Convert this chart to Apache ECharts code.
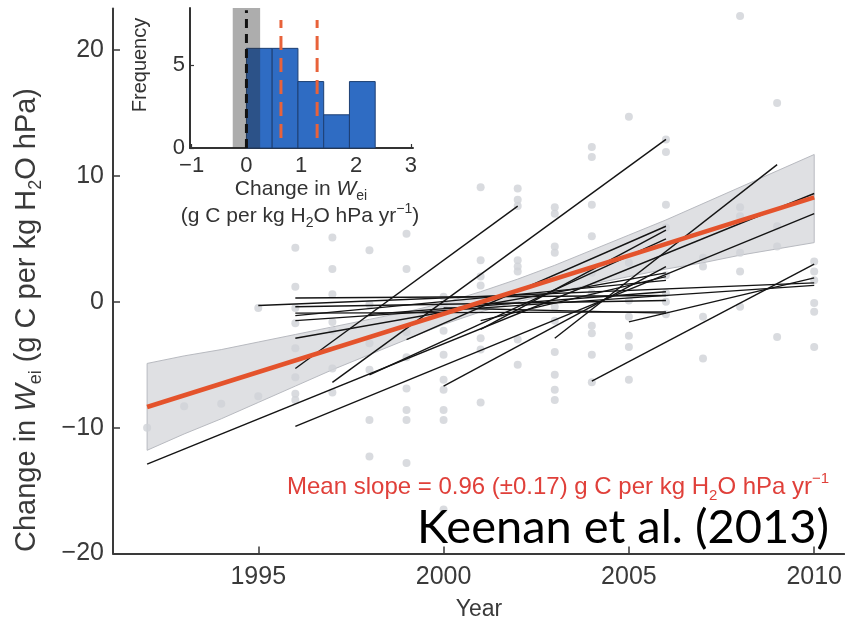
<!DOCTYPE html>
<html><head><meta charset="utf-8">
<script src="https://cdn.jsdelivr.net/npm/echarts@6/dist/echarts.min.js"></script>
<style>html,body{margin:0;padding:0;background:#fff}#c{width:845px;height:628px}</style>
</head><body><div id="c"></div>
<script>
// ---------- main panel data ----------
const xTicks = [1995, 2000, 2005, 2010];
const yTicks = [-20, -10, 0, 10, 20];
// grey site-year points (paired arrays)
const dotYears = [
 1992,1993,1994,1995,1995,
 1996,1996,1996,1996,1996,1996,1996,1996,
 1997,1997,1997,1997,1997,1997,1997,
 1998,1998,1998,1998,1998,1998,
 1999,1999,1999,1999,1999,1999,1999,1999,
 2000,2000,2000,2000,2000,2000,2000,2000,2000,
 2001,2001,2001,2001,2001,2001,2001,
 2002,2002,2002,2002,2002,2002,2002,2002,
 2003,2003,2003,2003,2003,2003,2003,2003,2003,2003,
 2004,2004,2004,2004,2004,2004,2004,2004,2004,2004,
 2005,2005,2005,2005,2005,2005,2005,
 2006,2006,2006,2006,2006,2006,2006,2006,
 2007,2007,2007,2007,
 2008,2008,2008,2008,2008,2008,
 2009,2009,2009,2009,
 2010,2010,2010,2010,2010,2010
];
const dotValues = [
 -10.0,-8.3,-8.1,-7.5,-0.5,
 4.3,1.2,-0.5,-1.7,-3.7,-6.0,-7.3,-7.8,
 5.1,2.6,0.6,-1.6,-2.3,-5.3,-7.2,
 4.1,-0.2,-3.3,-5.4,-9.4,-12.3,
 5.4,2.6,-2.4,-4.4,-6.9,-8.6,-9.4,-12.8,
 0.4,-0.3,-2.3,-4.2,-6.2,-7.0,-8.6,-9.4,-16.5,
 9.1,3.3,2.0,1.3,-2.9,-3.8,-8.0,
 9.0,8.1,7.6,3.3,2.8,2.4,-3.0,-5.0,
 7.5,7.0,4.4,3.9,-0.4,-1.5,-4.0,-5.8,-7.0,-7.8,
 12.3,11.5,7.7,5.2,2.3,0.7,-1.9,-2.5,-4.2,-6.4,
 14.7,3.1,0.1,-1.2,-2.7,-3.6,-6.2,
 12.9,11.9,7.7,5.9,2.1,0.7,0.0,-1.0,
 3.5,2.8,-1.2,-4.5,
 22.7,7.5,6.8,3.9,2.4,-0.4,
 15.8,6.0,4.4,-2.8,
 3.2,2.4,1.7,-0.1,-0.8,-3.6
];
// per-site regression lines: start (year,value) -> end (year,value)
const lineX0 = [1992,1995,1996,1996,1996,1996,1996,1996,1996,1997,1998,2000,2003,2004,2005,1999,1996,2001,2000,1998,2001];
const lineY0 = [-12.9,-0.3,0.3,-0.4,-0.9,-1.1,-2.9,-5.3,-9.9,-6.4,-5.8,-6.7,-2.9,-6.3,-1.6,-3.0,-1.5,-1.5,-0.5,-1.0,-2.2];
const lineX1 = [2010,2010,2006,2006,2006,2006,2006,2002,2010,2006,2006,2006,2009,2010,2010,2006,2010,2006,2006,2006,2006];
const lineY1 = [8.6,1.5,0.5,0.1,-0.8,1.7,2.3,7.6,7.0,12.9,5.0,2.8,10.9,3.0,1.9,6.0,1.3,2.0,-0.9,0.8,5.7];
// mean regression and its confidence band
const meanYears = [1992, 2010];
const meanValues = [-8.36, 8.29];
const bandYears = [1992,1993,1994,1995,1996,1997,1998,1999,2000,2001,2002,2003,2004,2005,2006,2007,2008,2009,2010];
const bandUpper = [-4.9,-4.3,-3.8,-3.2,-2.6,-2.0,-1.4,-0.8,-0.1,0.8,1.8,2.9,4.1,5.3,6.5,7.8,9.1,10.4,11.7];
const bandLower = [-11.8,-10.5,-9.3,-8.0,-6.7,-5.4,-4.2,-3.0,-1.8,-0.8,0.0,0.7,1.4,2.0,2.6,3.1,3.7,4.2,4.7];

// ---------- inset histogram data ----------
const histTicksX = [-1, 0, 1, 2, 3];
const histTicksY = [0, 5];
const histBinStart = [0.0, 0.47, 0.94, 1.41, 1.88];
const histBinEnd = [0.47, 0.94, 1.41, 1.88, 2.35];
const histCounts = [6, 6, 4, 2, 4];
const nullBand = [-0.25, 0.25];
const zeroLineY = [0, 8.3];
const meanSlopeDash = [0.63, 1.29];
const meanSlopeDashY = [0.6, 7.7];

const INSET_TOP = 8.43;
const font = "'Liberation Sans', Arial, Helvetica, sans-serif";
const axisColor = '#3a3a3a';
const labelColor = '#3a3a3a';
const minus = v => (v < 0 ? '\u2212' + Math.abs(v) : String(v));

const chart = echarts.init(document.getElementById('c'), null, {renderer: 'canvas'});

const option = {
  animation: false,
  backgroundColor: '#ffffff',
  grid: [
    {left: 113, top: 8.5, width: 732, height: 545},
    {left: 190, top: 8, width: 223, height: 140}
  ],
  xAxis: [
    {type: 'value', gridIndex: 0, min: 1991.08, max: 2010.81,
     axisLine: {onZero: false, lineStyle: {color: axisColor, width: 2}},
     axisTick: {inside: true, length: 7, customValues: xTicks, lineStyle: {color: axisColor, width: 1.5}},
     axisLabel: {customValues: xTicks, color: labelColor, fontSize: 25, fontFamily: font, margin: 11,
       formatter: v => String(v)},
     splitLine: {show: false}},
    {type: 'value', gridIndex: 1, min: -1.03, max: 3.04,
     axisLine: {onZero: false, lineStyle: {color: '#333', width: 2}},
     axisTick: {inside: true, length: 4, customValues: histTicksX, lineStyle: {color: '#333', width: 1.2}},
     axisLabel: {customValues: histTicksX, color: '#333', fontSize: 22, fontFamily: font, margin: 7,
       formatter: minus},
     splitLine: {show: false}}
  ],
  yAxis: [
    {type: 'value', gridIndex: 0, min: -20, max: 23.3,
     axisLine: {show: true, onZero: false, lineStyle: {color: axisColor, width: 2}},
     axisTick: {show: true, inside: true, length: 7, customValues: yTicks, lineStyle: {color: axisColor, width: 1.5}},
     axisLabel: {customValues: yTicks, color: labelColor, fontSize: 25, fontFamily: font, margin: 9,
       formatter: minus},
     splitLine: {show: false}},
    {type: 'value', gridIndex: 1, min: 0, max: INSET_TOP,
     axisLine: {show: true, onZero: false, lineStyle: {color: '#333', width: 2}},
     axisTick: {show: true, inside: true, length: 4, customValues: histTicksY, lineStyle: {color: '#333', width: 1.2}},
     axisLabel: {customValues: histTicksY, color: '#333', fontSize: 22, fontFamily: font, margin: 5},
     splitLine: {show: false}}
  ],
  series: [
    // confidence band
    {type: 'custom', xAxisIndex: 0, yAxisIndex: 0, z: 1, silent: true,
     data: [[bandYears[0], bandUpper[0]]],
     renderItem: (params, api) => {
       const pts = [];
       for (let i = 0; i < bandYears.length; i++) pts.push(api.coord([bandYears[i], bandUpper[i]]));
       for (let i = bandYears.length - 1; i >= 0; i--) pts.push(api.coord([bandYears[i], bandLower[i]]));
       return {type: 'polygon', shape: {points: pts},
               style: {fill: '#dfe0e3', stroke: '#b8bac0', lineWidth: 1}};
     }},
    // grey points
    {type: 'scatter', xAxisIndex: 0, yAxisIndex: 0, z: 2, symbolSize: 8,
     itemStyle: {color: '#cfd2d7'},
     data: dotYears.map((y, i) => [y, dotValues[i]])},
    // site lines
    {type: 'lines', coordinateSystem: 'cartesian2d', xAxisIndex: 0, yAxisIndex: 0, z: 3,
     lineStyle: {color: '#141414', width: 1.4, opacity: 1},
     data: lineX0.map((x, i) => ({coords: [[x, lineY0[i]], [lineX1[i], lineY1[i]]]}))},
    // mean line
    {type: 'line', xAxisIndex: 0, yAxisIndex: 0, z: 4, showSymbol: false, symbol: 'none',
     lineStyle: {color: '#e4532c', width: 4.5},
     data: meanYears.map((y, i) => [y, meanValues[i]])},
    // inset: histogram bars
    {type: 'custom', xAxisIndex: 1, yAxisIndex: 1, z: 5,
     data: histCounts.map((c, i) => [histBinStart[i], histBinEnd[i], c]),
     encode: {x: [0, 1], y: 2},
     renderItem: (params, api) => {
       const p0 = api.coord([api.value(0), api.value(2)]);
       const p1 = api.coord([api.value(1), 0]);
       return {type: 'rect', shape: {x: p0[0], y: p0[1], width: p1[0] - p0[0], height: p1[1] - p0[1]},
               style: {fill: '#2f6cc3', stroke: '#1d3f73', lineWidth: 1}};
     }},
    // inset: null band
    {type: 'custom', xAxisIndex: 1, yAxisIndex: 1, z: 6,
     data: [[nullBand[0], nullBand[1]]],
     encode: {x: [0, 1]},
     renderItem: (params, api) => {
       const p0 = api.coord([api.value(0), INSET_TOP]);
       const p1 = api.coord([api.value(1), 0]);
       return {type: 'rect', shape: {x: p0[0], y: p0[1], width: p1[0] - p0[0], height: p1[1] - p0[1]},
               style: {fill: 'rgba(40,40,40,0.38)'}};
     }},
    // inset: zero dashed line
    {type: 'line', xAxisIndex: 1, yAxisIndex: 1, z: 7, showSymbol: false, symbol: 'none',
     lineStyle: {color: '#111', width: 3, type: [9, 6]},
     data: zeroLineY.map(v => [0, v])},
    // inset: mean slope dashed lines
    ...meanSlopeDash.map(x => ({type: 'line', xAxisIndex: 1, yAxisIndex: 1, z: 7, showSymbol: false, symbol: 'none',
     lineStyle: {color: '#e8623a', width: 3, type: [14, 8]},
     data: meanSlopeDashY.map(v => [x, v])}))
  ],
  graphic: [
    {type: 'text', x: 27, y: 320, rotation: Math.PI / 2, z: 10,
     style: {text: '{a|Change in }{i|W}{s|ei}{a| (g C per kg H}{s|2}{a|O hPa)}',
       align: 'center', verticalAlign: 'middle', fill: '#3a3a3a',
       rich: {
         a: {fontSize: 29, fontFamily: font, fill: '#3a3a3a', lineHeight: 36},
         i: {fontSize: 29, fontFamily: font, fontStyle: 'italic', fill: '#3a3a3a', lineHeight: 36},
         s: {fontSize: 18, fontFamily: font, fill: '#3a3a3a', verticalAlign: 'bottom', lineHeight: 36}
       }}},
    {type: 'text', x: 479, y: 610, z: 10,
     style: {text: 'Year', font: '23px ' + font, fill: '#3a3a3a', align: 'center', verticalAlign: 'middle'}},
    {type: 'text', x: 140, y: 65, rotation: Math.PI / 2, z: 10,
     style: {text: 'Frequency', font: '20px ' + font, fill: '#333', align: 'center', verticalAlign: 'middle'}},
    {type: 'text', x: 301, y: 189, z: 10,
     style: {text: '{a|Change in }{i|W}{s|ei}',
       align: 'center', verticalAlign: 'middle',
       rich: {
         a: {fontSize: 21, fontFamily: font, fill: '#333', lineHeight: 28},
         i: {fontSize: 21, fontFamily: font, fontStyle: 'italic', fill: '#333', lineHeight: 28},
         s: {fontSize: 14, fontFamily: font, fill: '#333', verticalAlign: 'bottom', lineHeight: 28}
       }}},
    {type: 'text', x: 300, y: 216, z: 10,
     style: {text: '{a|(g C per kg H}{s|2}{a|O hPa yr}{u|\u22121}{a|)}',
       align: 'center', verticalAlign: 'middle',
       rich: {
         a: {fontSize: 21, fontFamily: font, fill: '#333', lineHeight: 28},
         s: {fontSize: 14, fontFamily: font, fill: '#333', verticalAlign: 'bottom', lineHeight: 28},
         u: {fontSize: 14, fontFamily: font, fill: '#333', verticalAlign: 'top', lineHeight: 28}
       }}},
    {type: 'text', x: 287, y: 487, z: 10,
     style: {text: '{a|Mean slope = 0.96 (\u00b10.17) g C per kg H}{s|2}{a|O hPa yr}{u|\u22121}',
       align: 'left', verticalAlign: 'middle',
       rich: {
         a: {fontSize: 24, fontFamily: font, fill: '#e0403a', lineHeight: 32},
         s: {fontSize: 15, fontFamily: font, fill: '#e0403a', verticalAlign: 'bottom', lineHeight: 32},
         u: {fontSize: 15, fontFamily: font, fill: '#e0403a', verticalAlign: 'top', lineHeight: 32}
       }}},
    {type: 'text', x: 623, y: 528, z: 10,
     style: {text: 'Keenan et al. (2013)', font: '47px Lato, sans-serif', fill: '#000',
       align: 'center', verticalAlign: 'middle'}}
  ]
};
chart.setOption(option);
</script>
</body></html>
